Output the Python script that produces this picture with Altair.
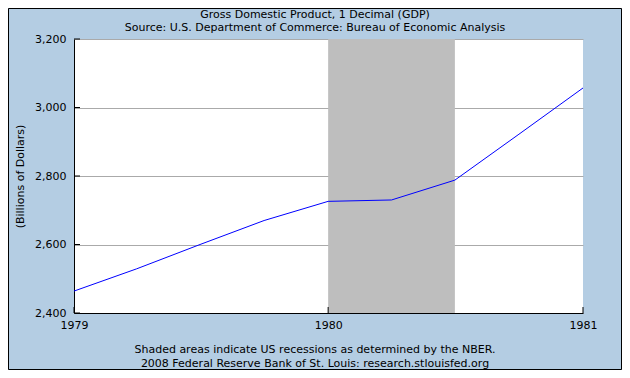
import altair as alt
import pandas as pd

dates = ["1979-01-01", "1979-04-01", "1979-07-01", "1979-10-01",
         "1980-01-01", "1980-04-01", "1980-07-01", "1980-10-01", "1981-01-01"]
gdp = [2464, 2529, 2600, 2670, 2726, 2730, 2788, 2922, 3057]

rec_start = ["1980-01-01"]
rec_end = ["1980-07-01"]

y_ticks = [2400, 2600, 2800, 3000, 3200]
x_ticks = ["1979-01-01", "1980-01-01", "1981-01-01"]

title_text = "Gross Domestic Product, 1 Decimal (GDP)"
subtitle_text = "Source: U.S. Department of Commerce: Bureau of Economic Analysis"
note_lines = ["Shaded areas indicate US recessions as determined by the NBER.",
              "2008 Federal Reserve Bank of St. Louis: research.stlouisfed.org"]

FONT = "DejaVu Sans"
BG = "#B4CDE3"
W, H = 509, 274

df = pd.DataFrame({"date": dates, "gdp": gdp})
rec = pd.DataFrame({"start": rec_start, "end": rec_end})
yt = pd.DataFrame({"gdp": y_ticks})
xt = pd.DataFrame({"date": x_ticks})

xscale = alt.Scale(type="utc", domain=[x_ticks[0], x_ticks[-1]])
yscale = alt.Scale(domain=[2400, 3200])

x_axis = alt.Axis(values=[alt.DateTime(year=1979, month=1, date=1, utc=True),
                          alt.DateTime(year=1980, month=1, date=1, utc=True),
                          alt.DateTime(year=1981, month=1, date=1, utc=True)],
                  format="%Y", formatType="utc", ticks=False, grid=False,
                  labelPadding=6, domainColor="black", labelFontSize=11,
                  labelFont=FONT, labelColor="black", title=None, labelFlush=False)
y_axis = alt.Axis(values=y_ticks, format=",.0f", ticks=False, grid=True,
                  gridColor="#AAAAAA", gridOpacity=1, labelPadding=8,
                  domainColor="black", labelFontSize=11, labelFont=FONT,
                  labelColor="black", title="(Billions of Dollars)",
                  titleFont=FONT, titleFontSize=11, titleFontWeight="normal",
                  titleColor="black", titleAngle=-90, titleX=-54, titleY=H / 2,
                  titleAlign="center", titleBaseline="middle")

recess = alt.Chart(rec).mark_rect(color="#BEBEBE").encode(
    x=alt.X("start:T", scale=xscale, axis=x_axis),
    x2="end:T",
)

line = alt.Chart(df).mark_line(color="#0000FF", strokeWidth=1).encode(
    x=alt.X("date:T", scale=xscale, axis=x_axis),
    y=alt.Y("gdp:Q", scale=yscale, axis=y_axis),
)

ytick_marks = alt.Chart(yt).mark_rule(color="black").encode(
    y=alt.Y("gdp:Q", scale=yscale, axis=y_axis),
    x=alt.value(0), x2=alt.value(6),
)
xtick_marks = alt.Chart(xt).mark_rule(color="black").encode(
    x=alt.X("date:T", scale=xscale, axis=x_axis),
    y=alt.value(H - 6), y2=alt.value(H),
)

def label(txt, ypos):
    return alt.Chart(pd.DataFrame({"t": [txt]})).mark_text(
        font=FONT, fontSize=11, color="black", align="center",
        baseline="middle").encode(text="t:N", x=alt.value(241), y=alt.value(ypos))

title1 = label(title_text, -24)
title2 = label(subtitle_text, -11)
note1 = label(note_lines[0], 311)
note2 = label(note_lines[1], 325)

border = alt.Chart(pd.DataFrame({"a": [0]})).mark_rect(
    fill=None, stroke="black", strokeWidth=1).encode(
    x=alt.value(-65.5), x2=alt.value(W + 38.5),
    y=alt.value(-30.5), y2=alt.value(H + 56.5),
)

chart = alt.layer(recess, line, ytick_marks, xtick_marks,
                  title1, title2, note1, note2, border).properties(
    width=W, height=H,
    background=BG,
    padding={"left": 66, "top": 31, "right": 39, "bottom": 57},
    autosize=alt.AutoSizeParams(type="none"),
).configure_view(stroke=None, fill="white")

chart.save("out.html", embed_options={"renderer": "svg", "actions": False})
